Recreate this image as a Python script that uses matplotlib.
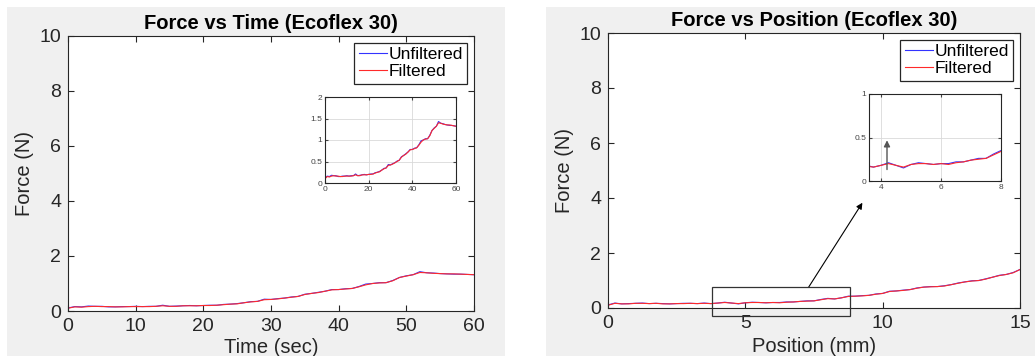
import matplotlib
matplotlib.use('Agg')
import matplotlib.pyplot as plt
import numpy as np
from matplotlib.patches import Rectangle

plt.rcParams['font.family'] = ['Liberation Sans', 'DejaVu Sans']

# Force vs time (Ecoflex 30), sampled every second
time_s = np.arange(0, 61)
force_t_filt = [0.10, 0.15, 0.14, 0.16, 0.17, 0.16, 0.16, 0.15, 0.15, 0.16,
                0.16, 0.16, 0.16, 0.17, 0.19, 0.17, 0.17, 0.19, 0.19, 0.19,
                0.20, 0.20, 0.21, 0.23, 0.25, 0.26, 0.30, 0.33, 0.35, 0.41,
                0.42, 0.44, 0.47, 0.50, 0.53, 0.60, 0.64, 0.67, 0.72, 0.77,
                0.78, 0.80, 0.82, 0.88, 0.95, 1.00, 1.02, 1.03, 1.10, 1.22,
                1.27, 1.32, 1.40, 1.39, 1.37, 1.36, 1.35, 1.35, 1.34, 1.33,
                1.32]
force_t_raw = [0.11, 0.16, 0.15, 0.18, 0.17, 0.17, 0.15, 0.15, 0.16, 0.16,
               0.17, 0.16, 0.17, 0.17, 0.21, 0.17, 0.18, 0.19, 0.20, 0.19,
               0.20, 0.21, 0.21, 0.24, 0.25, 0.27, 0.30, 0.34, 0.35, 0.43,
               0.42, 0.45, 0.47, 0.51, 0.53, 0.61, 0.64, 0.68, 0.72, 0.78,
               0.78, 0.81, 0.82, 0.89, 0.98, 1.00, 1.03, 1.03, 1.11, 1.22,
               1.28, 1.32, 1.43, 1.39, 1.38, 1.36, 1.35, 1.34, 1.34, 1.33,
               1.32]

# Force vs position, sampled every 0.25 mm
pos_mm = np.arange(0, 61) * 0.25
force_p_filt = [0.10, 0.17, 0.15, 0.15, 0.17, 0.17, 0.16, 0.17, 0.15, 0.15,
                0.16, 0.16, 0.17, 0.16, 0.17, 0.16, 0.18, 0.20, 0.18, 0.16,
                0.19, 0.20, 0.20, 0.19, 0.20, 0.19, 0.21, 0.22, 0.24, 0.25,
                0.26, 0.30, 0.34, 0.33, 0.37, 0.42, 0.43, 0.44, 0.46, 0.50,
                0.53, 0.60, 0.62, 0.64, 0.67, 0.72, 0.76, 0.77, 0.78, 0.80,
                0.85, 0.90, 0.95, 0.98, 1.00, 1.05, 1.12, 1.18, 1.22, 1.28,
                1.40]
force_p_raw = [0.11, 0.18, 0.15, 0.16, 0.17, 0.18, 0.16, 0.17, 0.16, 0.15,
               0.16, 0.17, 0.17, 0.16, 0.18, 0.16, 0.18, 0.21, 0.18, 0.15,
               0.19, 0.21, 0.20, 0.19, 0.20, 0.20, 0.22, 0.22, 0.24, 0.26,
               0.26, 0.31, 0.35, 0.33, 0.37, 0.43, 0.43, 0.45, 0.46, 0.51,
               0.53, 0.61, 0.62, 0.65, 0.67, 0.73, 0.76, 0.78, 0.78, 0.81,
               0.85, 0.91, 0.95, 0.99, 1.00, 1.06, 1.12, 1.19, 1.22, 1.29,
               1.40]

W, H = 1035, 356
fig = plt.figure(figsize=(W / 100, H / 100), dpi=100, facecolor='white')

def px(x0, y0, x1, y1):
    # pixel box (top-left origin) -> figure fraction rect
    return [x0 / W, 1 - y1 / H, (x1 - x0) / W, (y1 - y0) / H]

# grey panel backgrounds
for box in [(7, 7, 505, 356), (546, 7, 1035, 356)]:
    r = px(*box)
    fig.patches.append(Rectangle((r[0], r[1]), r[2], r[3], transform=fig.transFigure,
                                 facecolor='#f0f0f0', edgecolor='none', zorder=-10))

dark = '#262626'
c_raw = '#3333ff'
c_filt = '#ff2a2a'

def style_main(ax):
    ax.tick_params(direction='in', top=True, right=True, labelsize=14,
                   colors=dark, length=4, pad=5)
    for s in ax.spines.values():
        s.set_color(dark)
        s.set_linewidth(0.8)

def style_inset(ax):
    ax.tick_params(direction='in', top=True, right=True, labelsize=6,
                   colors='#444444', length=2, pad=2)
    ax.grid(True, color='#d9d9d9', linewidth=0.6)
    for s in ax.spines.values():
        s.set_color(dark)
        s.set_linewidth(0.8)

def style_legend(leg):
    leg.get_frame().set_edgecolor(dark)
    leg.get_frame().set_linewidth(0.9)

leg_kw = dict(loc='upper right', fontsize=12.5, fancybox=False, frameon=True,
              handlelength=1.6, handletextpad=0.1, borderpad=0.25,
              labelspacing=0.1, borderaxespad=0.4, framealpha=1)

# ---------- left: force vs time ----------
ax1 = fig.add_axes(px(68, 36, 474, 311))
ax1.plot(time_s, force_t_raw, color=c_raw, lw=0.8, label='Unfiltered')
ax1.plot(time_s, force_t_filt, color=c_filt, lw=0.8, label='Filtered')
ax1.set_xlim(0, 60)
ax1.set_ylim(0, 10)
ax1.set_xticks([0, 10, 20, 30, 40, 50, 60])
ax1.set_yticks([0, 2, 4, 6, 8, 10])
style_main(ax1)
ax1.set_title('Force vs Time (Ecoflex 30)', fontsize=14.5, fontweight='bold', pad=5)
ax1.set_xlabel('Time (sec)', fontsize=14.5, color=dark, labelpad=2.5)
ax1.set_ylabel('Force (N)', fontsize=14.5, color=dark, labelpad=4)
style_legend(ax1.legend(**leg_kw))

ins1 = fig.add_axes(px(325, 97, 456, 183))
ins1.plot(time_s, force_t_raw, color=c_raw, lw=0.8)
ins1.plot(time_s, force_t_filt, color=c_filt, lw=0.8)
ins1.set_xlim(0, 60)
ins1.set_ylim(0, 2)
ins1.set_xticks([0, 20, 40, 60])
ins1.set_yticks([0, 0.5, 1, 1.5, 2])
ins1.set_yticklabels(['0', '0.5', '1', '1.5', '2'])
style_inset(ins1)

# ---------- right: force vs position ----------
ax2 = fig.add_axes(px(608, 33, 1020, 308))
ax2.plot(pos_mm, force_p_raw, color=c_raw, lw=0.8, label='Unfiltered')
ax2.plot(pos_mm, force_p_filt, color=c_filt, lw=0.8, label='Filtered')
ax2.set_xlim(0, 15)
ax2.set_ylim(0, 10)
ax2.set_xticks([0, 5, 10, 15])
ax2.set_yticks([0, 2, 4, 6, 8, 10])
style_main(ax2)
ax2.set_title('Force vs Position (Ecoflex 30)', fontsize=14.5, fontweight='bold', pad=5)
ax2.set_xlabel('Position (mm)', fontsize=14.5, color=dark, labelpad=3.5)
ax2.set_ylabel('Force (N)', fontsize=14.5, color=dark, labelpad=4)
style_legend(ax2.legend(**leg_kw))

# zoom box on the main axes
ax2.add_patch(Rectangle((3.8, -0.3), 5.0, 1.05, fill=False, edgecolor='#333333',
                        lw=0.9, clip_on=False, zorder=5))

ins2 = fig.add_axes(px(869, 94, 1001, 181))
ins2.plot(pos_mm, force_p_raw, color=c_raw, lw=0.8)
ins2.plot(pos_mm, force_p_filt, color=c_filt, lw=0.8)
ins2.set_xlim(3.6, 8)
ins2.set_ylim(0, 1)
ins2.set_xticks([4, 6, 8])
ins2.set_yticks([0, 0.5, 1])
ins2.set_yticklabels(['0', '0.5', '1'])
style_inset(ins2)
ins2.annotate('', xy=(4.2, 0.5), xytext=(4.2, 0.1),
              arrowprops=dict(arrowstyle='-|>', color='#555555', lw=1.0,
                              mutation_scale=9))

# arrow from zoom box to inset
ax2.annotate('', xy=(-0.05, -0.25), xycoords=ins2.transAxes,
             xytext=(7.3, 0.75), textcoords='data',
             arrowprops=dict(arrowstyle='-|>', color='black', lw=0.8,
                             mutation_scale=9, shrinkA=0, shrinkB=0))

fig.savefig('out.png', dpi=100, facecolor='white')
